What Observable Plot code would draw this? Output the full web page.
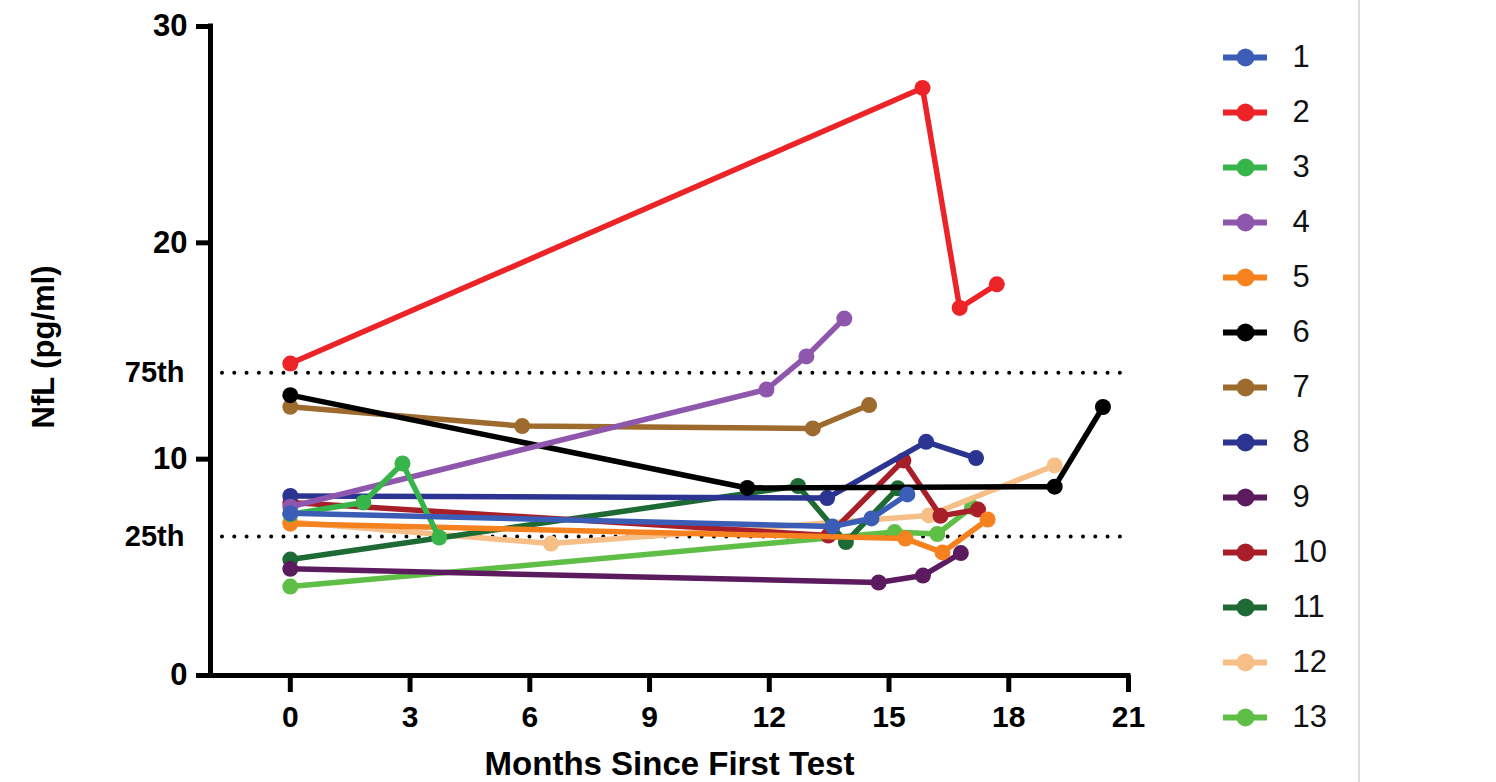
<!DOCTYPE html>
<html>
<head>
<meta charset="utf-8">
<script src="https://cdn.jsdelivr.net/npm/d3@7"></script>
<script src="https://cdn.jsdelivr.net/npm/@observablehq/plot@0.6"></script>
<style>
  html, body { margin: 0; padding: 0; background: #fff; }
  #wrap { position: relative; width: 1496px; height: 782px; overflow: hidden; }
  #wrap svg { position: absolute; left: 0; top: 0; }
  #divider { position: absolute; left: 1358px; top: 0; width: 2px; height: 782px; background: #dcdcdc; }
</style>
</head>
<body>
<div id="wrap"><div id="divider"></div></div>
<script>
// ---- data ----
const series = ["1","2","3","4","5","6","7","8","9","10","11","12","13"];
const colors = ["#3b5db5","#ec2327","#38b54a","#8f56ad","#f5821f","#000000","#9c6b2d","#2b3491","#5c1b5e","#a81f2a","#1d6a35","#f5bf87","#5fbe46"];
const months = [
  [0, 13.58, 14.56, 15.46],
  [0, 15.84, 16.77, 17.70],
  [0, 1.83, 2.81, 3.73],
  [0, 11.93, 12.93, 13.88],
  [0, 15.41, 16.34, 17.47],
  [0, 11.45, 19.15, 20.36],
  [0, 5.81, 13.09, 14.50],
  [0, 13.45, 15.93, 17.18],
  [0, 14.74, 15.85, 16.80],
  [0, 13.48, 15.36, 16.29, 17.23],
  [0, 12.72, 13.92, 15.22],
  [0, 6.53, 16.00, 19.15],
  [0, 15.14, 16.21, 17.08]
];
const nfl = [
  [7.5, 6.89, 7.26, 8.37],
  [14.42, 27.16, 16.99, 18.08],
  [7.45, 8.0, 9.8, 6.38],
  [7.8, 13.22, 14.75, 16.5],
  [7.02, 6.33, 5.69, 7.21],
  [12.96, 8.67, 8.73, 12.41],
  [12.42, 11.53, 11.42, 12.5],
  [8.3, 8.2, 10.8, 10.05],
  [4.93, 4.3, 4.62, 5.66],
  [8.0, 6.47, 9.94, 7.38, 7.67],
  [5.36, 8.76, 6.17, 8.65],
  [7.1, 6.1, 7.4, 9.71],
  [4.11, 6.63, 6.54, 7.78]
];
const refValues = [14.0, 6.43];
const refLabels = ["75th", "25th"];
const xTicks = [0, 3, 6, 9, 12, 15, 18, 21];
const yTicks = [0, 10, 20, 30];
const xLabel = "Months Since First Test";
const yLabel = "NfL (pg/ml)";

// ---- table ----
const rows = series.flatMap((s, i) => months[i].map((m, j) => ({id: s, month: m, nfl: nfl[i][j]})));

const font = "'Liberation Sans', Arial, Helvetica, sans-serif";
const marks = [];

// reference (percentile) dotted lines
marks.push(Plot.ruleY(refValues, {x1: -1.7, x2: 20.9, stroke: "#000", strokeWidth: 4, strokeDasharray: "0 12.3", strokeLinecap: "round"}));

// series: last first, so series 1 ends up on top
for (const s of [...series].reverse()) {
  const d = rows.filter(r => r.id === s);
  marks.push(Plot.line(d, {x: "month", y: "nfl", stroke: "id", strokeWidth: 5.5}));
  marks.push(Plot.dot(d, {x: "month", y: "nfl", fill: "id", r: 8}));
}

// axes
marks.push(Plot.ruleX([-2], {y1: 0, y2: 30, stroke: "#000", strokeWidth: 5, strokeLinecap: "square"}));
marks.push(Plot.ruleY([0], {x1: -2, x2: 21, stroke: "#000", strokeWidth: 5, strokeLinecap: "square"}));
marks.push(Plot.axisX({ticks: xTicks, tickSize: 17, tickPadding: 13, strokeWidth: 5, fontSize: 30, fontWeight: "bold", label: null, tickFormat: d => String(d)}));
marks.push(Plot.axisY({ticks: yTicks, tickSize: 14, tickPadding: 9, strokeWidth: 5, fontSize: 31, fontWeight: "bold", label: null, tickFormat: d => String(d)}));
marks.push(Plot.axisY({ticks: refValues, tickSize: 0, tickPadding: 26, fontSize: 29, fontWeight: "bold", label: null, tickFormat: d => refLabels[refValues.indexOf(d)]}));
marks.push(Plot.text([xLabel], {frameAnchor: "bottom", lineAnchor: "bottom", dy: 99, fontSize: 33, fontWeight: "bold", fill: "#000"}));
marks.push(Plot.text([yLabel], {frameAnchor: "left", textAnchor: "middle", lineAnchor: "middle", rotate: -90, dx: -166, dy: -4, fontSize: 31, fontWeight: "bold", fill: "#000"}));

const chart = Plot.plot({
  width: 1496,
  height: 782,
  marginLeft: 210,
  marginRight: 368,
  marginTop: 26,
  marginBottom: 107,
  x: {domain: [-2, 21]},
  y: {domain: [0, 30]},
  color: {domain: series, range: colors},
  style: {fontFamily: font, color: "#000", background: "transparent", overflow: "visible"},
  marks
});

const legend = Plot.plot({
  width: 1496,
  height: 782,
  margin: 0,
  x: {domain: [0, 1], range: [1223, 1267]},
  y: {type: "point", domain: series, range: [54, 719], padding: 0},
  color: {domain: series, range: colors},
  axis: null,
  style: {fontFamily: font, color: "#000", background: "transparent"},
  marks: [
    Plot.ruleY(series, {y: d => d, x1: 0, x2: 1, stroke: d => d, strokeWidth: 6}),
    Plot.dot(series, {x: 0.5, y: d => d, fill: d => d, r: 9}),
    Plot.text(series, {x: 1, y: d => d, text: d => d, dx: 25, textAnchor: "start", fontSize: 31, fill: "#111"})
  ]
});

const wrap = document.getElementById("wrap");
wrap.appendChild(chart);
wrap.appendChild(legend);
</script>
</body>
</html>
